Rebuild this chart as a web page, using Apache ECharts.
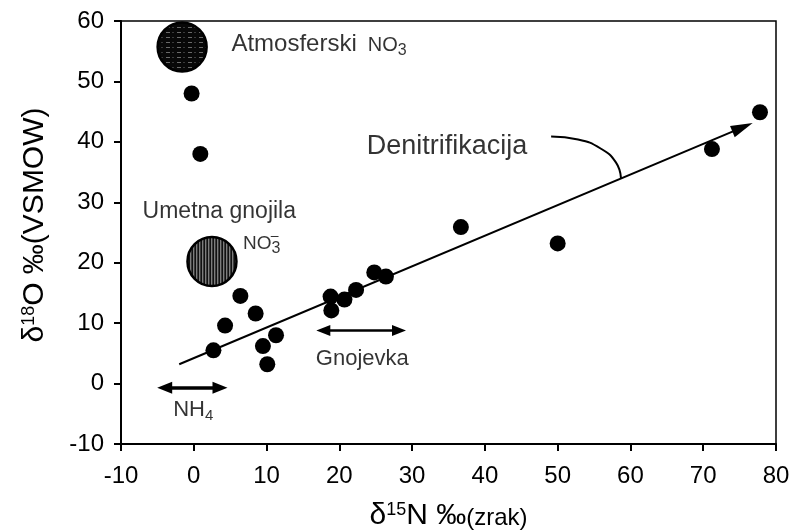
<!DOCTYPE html>
<html><head><meta charset="utf-8">
<script src="https://cdn.jsdelivr.net/npm/echarts@6/dist/echarts.min.js"></script>
<style>html,body{margin:0;padding:0;background:#fff}#c{width:793px;height:530px}</style>
</head><body><div id="c"></div>
<script>
// ---- data ----
const xRange = [-10, 80];
const yRange = [-10, 60];
const tickStep = 10;
const samplePoints = [
  [-0.3, 48.0], [0.9, 38.0], [2.7, 5.5], [4.3, 9.6], [6.4, 14.5], [8.5, 11.6],
  [9.5, 6.2], [11.3, 8.0], [10.1, 3.2], [18.8, 14.4], [18.9, 12.1], [20.7, 13.9],
  [22.3, 15.5], [24.8, 18.4], [26.4, 17.7], [36.7, 25.9], [50.0, 23.2],
  [71.2, 38.8], [77.8, 44.9]
];
const atmosphericNO3 = [-1.6, 55.7];
const fertilizerNO3 = [2.5, 20.2];
const denitrificationLine = [[-2.0, 3.2], [75.4, 42.4]];
const denitrificationCurve = [[49.1, 40.9], [52.8, 40.4], [55.9, 38.9], [58.0, 36.6], [58.7, 34.0]];
const nh4Arrow = [[-4.0, -0.7], [3.6, -0.7]];
const manureArrow = [[17.8, 8.8], [28.2, 8.8]];
const annotationAnchors = {
  atmos: [5.1, 56.2], fert: [-7.1, 28.4], fertIon: [6.7, 23.2], fertCharge: [11.1, 24.4],
  denit: [23.7, 39.3], manure: [16.7, 4.0], nh4: [-2.9, -4.4]
};
// ---- styles ----
const FONT = "'Liberation Sans', Arial, Helvetica, sans-serif";
const INK = '#000';
function pattern(w, h, draw) {
  const c = document.createElement('canvas'); c.width = w; c.height = h;
  draw(c.getContext('2d')); return c;
}
const atmosPattern = pattern(11, 5, g => {
  g.fillStyle = '#080808'; g.fillRect(0, 0, 11, 5);
  g.fillStyle = '#6a6a6a'; g.fillRect(1, 2, 4, 1);
  g.fillStyle = '#3a3a3a'; g.fillRect(7, 2, 2, 1);
});
const fertPattern = pattern(3, 4, g => {
  g.fillStyle = '#7d7d7d'; g.fillRect(0, 0, 3, 4);
  g.fillStyle = '#111'; g.fillRect(0, 0, 1, 4);
  g.fillStyle = '#3a3a3a'; g.fillRect(2, 0, 1, 4);
});
const sourcePatterns = [atmosPattern, fertPattern];
function textItem(coord, formatter, rich, position) {
  return {
    value: coord,
    label: { show: true, position: position || 'right', distance: 0, formatter, rich,
      color: INK, fontFamily: FONT }
  };
}
const labelItems = [
  textItem(annotationAnchors.atmos, '{a|Atmosferski}{b|  NO}{c|3}', {
    a: { fontSize: 24, lineHeight: 28, fontFamily: FONT, color: INK },
    b: { fontSize: 20, lineHeight: 20, padding: [4, 0, 0, 0], fontFamily: FONT, color: INK },
    c: { fontSize: 16, lineHeight: 16, padding: [14, 0, 0, 0], fontFamily: FONT, color: INK }
  }),
  textItem(annotationAnchors.fert, '{a|Umetna gnojila}', {
    a: { fontSize: 23, lineHeight: 26, fontFamily: FONT, color: INK }
  }),
  textItem(annotationAnchors.fertIon, '{b|NO}{c|3}', {
    b: { fontSize: 19, lineHeight: 22, fontFamily: FONT, color: INK },
    c: { fontSize: 16, lineHeight: 16, padding: [10, 0, 0, 0], fontFamily: FONT, color: INK }
  }),
  textItem(annotationAnchors.fertCharge, '{a|\u2013}', {
    a: { fontSize: 14, lineHeight: 14, fontFamily: FONT, color: INK }
  }, 'inside'),
  textItem(annotationAnchors.denit, '{a|Denitrifikacija}', {
    a: { fontSize: 27, lineHeight: 30, fontFamily: FONT, color: INK }
  }),
  textItem(annotationAnchors.manure, '{a|Gnojevka}', {
    a: { fontSize: 22, lineHeight: 26, fontFamily: FONT, color: INK }
  }),
  textItem(annotationAnchors.nh4, '{b|NH}{c|4}', {
    b: { fontSize: 22, lineHeight: 26, fontFamily: FONT, color: INK },
    c: { fontSize: 15, lineHeight: 15, padding: [11, 0, 0, 0], fontFamily: FONT, color: INK }
  })
];
function arrowLine(pts, startSym, endSym, headSize, width) {
  return [
    { coord: pts[0], symbol: startSym, symbolSize: headSize, lineStyle: { width, color: '#000', type: 'solid' } },
    { coord: pts[1], symbol: endSym, symbolSize: headSize }
  ];
}
const axisCommon = {
  type: 'value', interval: tickStep,
  axisLine: { show: true, onZero: false, lineStyle: { color: '#000', width: 2 } },
  axisTick: { show: true, inside: false, length: 7, lineStyle: { color: '#000', width: 2 } },
  splitLine: { show: false },
  axisLabel: { fontSize: 24, color: INK, fontFamily: FONT }
};
const option = {
  animation: false,
  backgroundColor: '#fff',
  textStyle: { fontFamily: FONT },
  grid: { left: 121, right: 17, top: 21, bottom: 86, show: true, borderColor: '#000', borderWidth: 1.5,
    containLabel: false, outerBoundsMode: 'none' },
  xAxis: Object.assign({}, axisCommon, {
    min: xRange[0], max: xRange[1],
    axisLabel: Object.assign({}, axisCommon.axisLabel, { margin: 20 }),
    name: '{d|\u03b4}{sup|15}{m|N \u2030}{s|(zrak)}',
    nameLocation: 'middle', nameGap: 56,
    nameTextStyle: { color: INK, rich: {
      d: { fontSize: 30, lineHeight: 32, fontFamily: FONT, color: INK },
      sup: { fontSize: 18, lineHeight: 18, padding: [0, 0, 12, 0], fontFamily: FONT, color: INK },
      m: { fontSize: 30, lineHeight: 32, fontFamily: FONT, color: INK },
      s: { fontSize: 24, lineHeight: 24, padding: [5, 0, 0, 0], fontFamily: FONT, color: INK }
    } }
  }),
  yAxis: Object.assign({}, axisCommon, {
    min: yRange[0], max: yRange[1],
    axisLabel: Object.assign({}, axisCommon.axisLabel, { margin: 17 }),
    name: '{d|\u03b4}{sup|18}{m|O \u2030(VSMOW)}',
    nameLocation: 'middle', nameGap: 70,
    nameTextStyle: { color: INK, padding: [0, 0, 0, 15], rich: {
      d: { fontSize: 30, lineHeight: 32, fontFamily: FONT, color: INK },
      sup: { fontSize: 18, lineHeight: 18, padding: [0, 0, 12, 0], fontFamily: FONT, color: INK },
      m: { fontSize: 30, lineHeight: 32, fontFamily: FONT, color: INK }
    } }
  }),
  series: [
    {
      name: 'curve', type: 'line', data: denitrificationCurve, smooth: 0.5, showSymbol: false, silent: true,
      lineStyle: { color: '#000', width: 2 }, z: 2
    },
    {
      name: 'sources', type: 'custom', coordinateSystem: 'cartesian2d', silent: true, z: 3,
      encode: { x: 0, y: 1 },
      data: [atmosphericNO3, fertilizerNO3],
      renderItem: function (params, api) {
        const p = api.coord([api.value(0), api.value(1)]);
        return {
          type: 'circle',
          shape: { cx: p[0], cy: p[1], r: 24.5 },
          style: { fill: { image: sourcePatterns[params.dataIndex], repeat: 'repeat' }, stroke: '#000', lineWidth: 2.5 }
        };
      }
    },
    {
      name: 'samples', type: 'scatter', data: samplePoints, symbolSize: 16, silent: true, z: 4,
      itemStyle: { color: '#000', opacity: 1 },
      markLine: {
        silent: true, animation: false, label: { show: false },
        lineStyle: { color: '#000', type: 'solid', width: 2 },
        data: [
          arrowLine(denitrificationLine, 'none', 'triangle', [12, 22], 2),
          arrowLine(nh4Arrow, 'triangle', 'triangle', [12, 15], 3.5),
          arrowLine(manureArrow, 'triangle', 'triangle', [11, 14], 2.5)
        ]
      }
    },
    {
      name: 'labels', type: 'scatter', data: labelItems, symbolSize: 1, silent: true, z: 5,
      itemStyle: { color: 'rgba(0,0,0,0)' }
    }
  ]
};
const chart = echarts.init(document.getElementById('c'), null, { renderer: 'canvas' });
chart.setOption(option);
</script></body></html>
